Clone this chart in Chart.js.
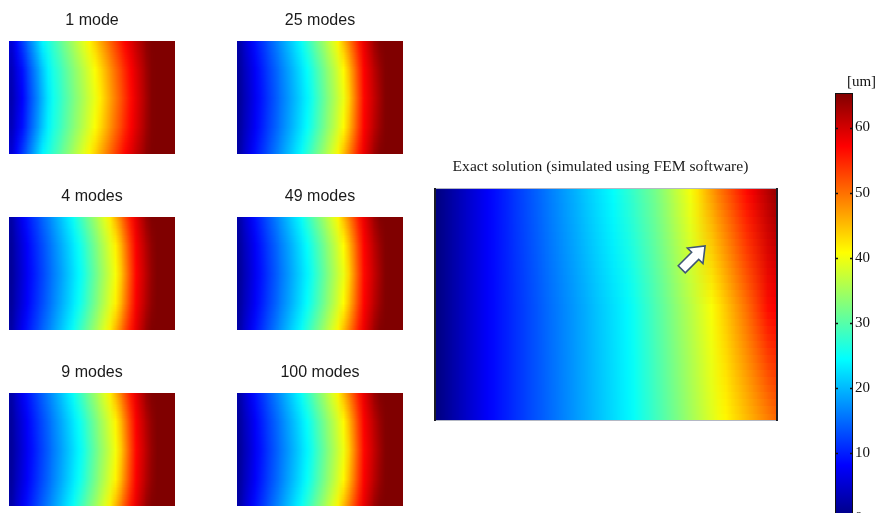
<!DOCTYPE html>
<html>
<head>
<meta charset="utf-8">
<script src="https://cdn.jsdelivr.net/npm/chart.js@4/dist/chart.umd.min.js"></script>
<style>
  body { margin: 0; background: #fff; }
  #page { position: relative; width: 880px; height: 513px; overflow: hidden; background: #fff; }
  canvas { position: absolute; }
</style>
</head>
<body>
<div id="page">
  <canvas id="m1" width="166" height="154" style="left:9px;top:0px"></canvas>
  <canvas id="m25" width="166" height="154" style="left:237px;top:0px"></canvas>
  <canvas id="m4" width="166" height="154" style="left:9px;top:176px"></canvas>
  <canvas id="m49" width="166" height="154" style="left:237px;top:176px"></canvas>
  <canvas id="m9" width="166" height="154" style="left:9px;top:352px"></canvas>
  <canvas id="m100" width="166" height="154" style="left:237px;top:352px"></canvas>
  <canvas id="exact" width="355" height="271" style="left:423px;top:150px"></canvas>
  <canvas id="cbar" width="53" height="460" style="left:835px;top:72px"></canvas>
</div>
<script>
// displacement field [um]
// small panels: top/bottom edge row, quarter-height row, middle row
const mode1Edge = [5.6, 8.7, 11.8, 14.8, 17.9, 21.0, 24.0, 26.0, 27.9, 29.8, 31.7, 33.6, 35.5, 37.4, 39.3, 41.4, 43.7, 46.0, 48.3, 50.7, 53.0, 55.3, 57.3, 59.1, 60.9, 62.6, 64.4, 65.2, 65.6, 66, 66, 66];
const mode1Quarter = [3.8, 6.4, 9.0, 12.0, 15.1, 18.0, 21.0, 23.8, 26.0, 27.7, 29.5, 31.4, 33.2, 34.9, 36.8, 38.6, 40.6, 42.8, 45.2, 47.7, 50.2, 52.6, 55.0, 57.3, 59.3, 61.3, 63.4, 65.0, 65.5, 66, 66, 66];
const mode1Mid = [3.2, 5.6, 8.1, 11.1, 14.1, 17.0, 20.0, 23.0, 25.3, 27.0, 28.8, 30.6, 32.4, 34.1, 35.9, 37.7, 39.5, 41.7, 44.2, 46.7, 49.2, 51.7, 54.2, 56.7, 58.8, 60.9, 63.0, 65.0, 65.5, 66, 66, 66];

const mode4Edge = [2.6, 5.0, 7.3, 9.3, 11.1, 12.8, 14.6, 16.3, 18.0, 19.8, 21.5, 23.3, 25.3, 27.6, 29.9, 32.2, 34.5, 36.8, 39.1, 41.9, 45.5, 49.1, 52.7, 56.0, 58.8, 61.4, 63.8, 65.2, 65.6, 66, 66, 66];
const mode4Quarter = [1.9, 4.0, 6.0, 8.0, 9.8, 11.5, 13.1, 14.8, 16.5, 18.2, 19.8, 21.5, 23.3, 25.1, 27.3, 29.6, 31.9, 34.2, 36.5, 38.9, 41.6, 45.3, 49.6, 53.8, 57.5, 59.9, 62.2, 64.3, 65.4, 65.7, 66, 66];
const mode4Mid = [1.7, 3.7, 5.6, 7.6, 9.3, 11.0, 12.6, 14.3, 16.0, 17.6, 19.2, 20.9, 22.6, 24.2, 26.4, 28.7, 31.0, 33.3, 35.6, 37.9, 40.3, 44.0, 48.5, 53.0, 57.0, 59.4, 61.7, 64.0, 65.3, 65.6, 66, 66];

const mode9Edge = [2.7, 5.1, 7.3, 9.2, 11.0, 12.8, 14.5, 16.2, 17.9, 19.7, 21.4, 23.2, 25.2, 27.5, 29.8, 32.1, 34.3, 36.6, 38.9, 41.7, 45.3, 48.9, 52.5, 55.9, 58.7, 61.3, 63.7, 65.1, 65.6, 66, 66, 66];
const mode9Quarter = [2.0, 4.1, 6.0, 7.9, 9.7, 11.4, 13.0, 14.7, 16.4, 18.1, 19.7, 21.4, 23.2, 25.0, 27.2, 29.5, 31.8, 34.1, 36.3, 38.7, 41.4, 45.1, 49.4, 53.7, 57.4, 59.8, 62.1, 64.2, 65.3, 65.7, 66, 66];
const mode9Mid = [1.8, 3.7, 5.6, 7.5, 9.2, 10.9, 12.5, 14.2, 15.9, 17.5, 19.1, 20.8, 22.5, 24.1, 26.3, 28.6, 30.9, 33.2, 35.4, 37.7, 40.1, 43.8, 48.3, 52.9, 56.9, 59.3, 61.6, 63.9, 65.2, 65.6, 66, 66];

const mode25Edge = [2.7, 5.0, 7.2, 9.1, 10.9, 12.6, 14.4, 16.1, 17.8, 19.6, 21.3, 23.1, 25.0, 27.3, 29.6, 31.9, 34.1, 36.4, 38.7, 41.4, 45.0, 48.6, 52.2, 55.8, 58.5, 61.0, 63.5, 65.0, 65.5, 66, 66, 66];
const mode25Quarter = [2.0, 4.0, 5.9, 7.8, 9.6, 11.3, 12.9, 14.5, 16.2, 17.9, 19.5, 21.2, 22.9, 24.7, 26.8, 29.1, 31.4, 33.7, 35.9, 38.3, 41.0, 44.8, 49.1, 53.5, 57.2, 59.4, 61.6, 63.6, 65.1, 65.6, 66, 66];
const mode25Mid = [1.7, 3.6, 5.5, 7.4, 9.1, 10.8, 12.4, 14.0, 15.7, 17.3, 18.9, 20.5, 22.2, 23.8, 25.9, 28.2, 30.5, 32.8, 35.0, 37.3, 39.6, 43.5, 48.1, 52.7, 56.8, 58.9, 61.0, 63.1, 65.0, 65.5, 66, 66];

const mode49Edge = [2.7, 5.0, 7.2, 9.1, 10.9, 12.7, 14.4, 16.1, 17.9, 19.6, 21.4, 23.1, 25.0, 27.3, 29.6, 31.8, 34.1, 36.4, 38.7, 41.3, 44.9, 48.5, 52.1, 55.7, 58.4, 60.9, 63.4, 65.0, 65.5, 66, 66, 66];
const mode49Quarter = [2.0, 4.0, 5.9, 7.8, 9.6, 11.3, 12.9, 14.5, 16.3, 17.9, 19.5, 21.2, 22.9, 24.7, 26.8, 29.0, 31.3, 33.6, 35.9, 38.3, 40.9, 44.7, 49.0, 53.4, 57.1, 59.3, 61.6, 63.6, 65.1, 65.6, 66, 66];
const mode49Mid = [1.7, 3.6, 5.5, 7.4, 9.1, 10.8, 12.4, 14.0, 15.7, 17.3, 18.9, 20.6, 22.2, 23.8, 25.9, 28.1, 30.4, 32.7, 35.0, 37.3, 39.5, 43.4, 48.0, 52.6, 56.7, 58.8, 61.0, 63.1, 65.0, 65.5, 66, 66];

const mode100Edge = [2.7, 5.0, 7.3, 9.2, 11.0, 12.7, 14.5, 16.2, 17.9, 19.7, 21.4, 23.2, 25.1, 27.4, 29.7, 32.0, 34.2, 36.5, 38.8, 41.5, 45.1, 48.7, 52.3, 55.8, 58.6, 61.1, 63.6, 65.0, 65.5, 66, 66, 66];
const mode100Quarter = [2.0, 4.0, 6.0, 7.9, 9.7, 11.4, 13.0, 14.6, 16.3, 18.0, 19.6, 21.3, 23.0, 24.8, 26.9, 29.2, 31.5, 33.8, 36.0, 38.4, 41.1, 44.9, 49.2, 53.6, 57.3, 59.5, 61.7, 63.7, 65.1, 65.6, 66, 66];
const mode100Mid = [1.7, 3.6, 5.5, 7.5, 9.2, 10.9, 12.5, 14.1, 15.8, 17.4, 19.0, 20.6, 22.3, 23.9, 26.0, 28.3, 30.6, 32.9, 35.1, 37.4, 39.7, 43.6, 48.2, 52.8, 56.8, 58.9, 61.1, 63.2, 65.0, 65.5, 66, 66];

// exact solution: top row, middle row, bottom row
const exactTop = [0.2, 1.3, 2.4, 3.5, 4.6, 5.6, 6.7, 7.8, 8.8, 9.7, 10.6, 11.6, 12.5, 13.4, 14.3, 15.3, 16.2, 17.1, 18.1, 19.0, 19.9, 20.9, 21.8, 22.7, 23.6, 24.6, 25.8, 27.0, 28.2, 29.5, 30.7, 31.9, 33.5, 35.2, 36.9, 38.5, 40.2, 42.4, 44.7, 46.9, 49.1, 50.9, 52.8, 54.7, 56.5, 58.2, 60.0, 61.7, 63.5];
const exactMid = [0.2, 1.3, 2.4, 3.5, 4.6, 5.6, 6.7, 7.8, 8.7, 9.5, 10.3, 11.1, 11.9, 12.7, 13.5, 14.4, 15.2, 16.0, 16.8, 17.6, 18.4, 19.2, 20.1, 20.9, 21.7, 22.5, 23.3, 24.1, 25.4, 26.7, 28.0, 29.4, 30.7, 32.1, 33.5, 34.9, 36.2, 37.6, 39.0, 40.4, 42.4, 44.3, 46.2, 48.1, 50.0, 52.1, 54.2, 56.3, 57.2];
const exactBottom = [0.2, 1.3, 2.4, 3.5, 4.6, 5.6, 6.7, 7.8, 8.7, 9.5, 10.3, 11.1, 11.9, 12.7, 13.5, 14.2, 15.0, 15.8, 16.6, 17.4, 18.2, 19.0, 19.8, 20.6, 21.4, 22.2, 23.0, 23.8, 24.8, 26.0, 27.2, 28.4, 29.6, 30.9, 32.1, 33.4, 34.7, 36.0, 37.3, 38.6, 39.9, 41.1, 42.4, 43.6, 44.9, 46.1, 47.4, 48.6, 49.9];

// arrow marker in the exact solution (column index, height 0..1)
const arrowAt = { x: 36.4, y: 0.70 };

// colorbar
const colorMin = 0;
const colorMax = 65.3;
const colorTicks = [0, 10, 20, 30, 40, 50, 60];
const colorUnit = "[um]";

Chart.defaults.animation = false;
Chart.defaults.events = [];
Chart.defaults.plugins.legend.display = false;
Chart.defaults.plugins.tooltip.enabled = false;

function jet(v) {
  const t = Math.min(1, Math.max(0, (v - colorMin) / (colorMax - colorMin)));
  const c = k => Math.round(255 * Math.min(1, Math.max(0, 1.5 - Math.abs(4 * t - k))));
  return `rgb(${c(3)},${c(2)},${c(1)})`;
}

// shaded fill for the columns: colours come from the rows of values,
// smoothed between column centres like an interpolated surface plot
function fieldPattern(chart, rows) {
  const a = chart.chartArea;
  const key = a.left + "," + a.top + "," + a.width + "," + a.height;
  if (chart.$field && chart.$field.key === key) return chart.$field.pattern;
  const n = rows[0].length, m = rows.length;
  const src = document.createElement("canvas");
  src.width = n; src.height = m;
  const sc = src.getContext("2d");
  rows.forEach((r, j) => r.forEach((v, i) => {
    sc.fillStyle = jet(v);
    sc.fillRect(i, j, 1, 1);
  }));
  const dst = document.createElement("canvas");
  dst.width = Math.ceil(a.width); dst.height = Math.ceil(a.height);
  const dc = dst.getContext("2d");
  dc.imageSmoothingEnabled = true;
  dc.drawImage(src, 0, 0.5, n, m - 1, 0, 0, a.width, a.height);
  const pattern = chart.ctx.createPattern(dst, "no-repeat");
  pattern.setTransform(new DOMMatrix([1, 0, 0, 1, a.left, a.top]));
  chart.$field = { key, pattern };
  return pattern;
}

function heatPanel(id, title, rows, extra) {
  extra = extra || {};
  const yWidth = extra.yWidth || 0;
  return new Chart(document.getElementById(id), {
    type: "bar",
    data: {
      labels: rows[0].map((_, i) => i),
      datasets: [{
        data: rows[0].map(() => [0, 1]),
        barPercentage: 1.6,
        categoryPercentage: 1,
        borderWidth: 0,
        backgroundColor: c => {
          if (!c.chart.chartArea) return "#000";
          return fieldPattern(c.chart, rows);
        }
      }]
    },
    options: {
      responsive: false,
      devicePixelRatio: 1,
      layout: { padding: 0 },
      scales: {
        x: { display: false },
        y: {
          display: yWidth > 0,
          min: 0,
          max: 1,
          afterFit: s => { s.width = yWidth; },
          ticks: { display: false },
          grid: { display: false, drawTicks: false },
          border: { display: false }
        }
      },
      plugins: {
        title: extra.title || {
          display: true,
          text: title,
          color: "#1a1a1a",
          font: { family: "'Liberation Sans', Arial", size: 16, weight: "normal" },
          padding: { top: 11.4, bottom: 10.4 }
        }
      }
    },
    plugins: extra.plugins || []
  });
}

heatPanel("m1", "1 mode", [mode1Edge, mode1Quarter, mode1Mid, mode1Quarter, mode1Edge]);
heatPanel("m25", "25 modes", [mode25Edge, mode25Quarter, mode25Mid, mode25Quarter, mode25Edge]);
heatPanel("m4", "4 modes", [mode4Edge, mode4Quarter, mode4Mid, mode4Quarter, mode4Edge]);
heatPanel("m49", "49 modes", [mode49Edge, mode49Quarter, mode49Mid, mode49Quarter, mode49Edge]);
heatPanel("m9", "9 modes", [mode9Edge, mode9Quarter, mode9Mid, mode9Quarter, mode9Edge]);
heatPanel("m100", "100 modes", [mode100Edge, mode100Quarter, mode100Mid, mode100Quarter, mode100Edge]);

// frame + arrow for the exact solution
const exactDecor = {
  id: "exactDecor",
  afterDatasetsDraw(chart) {
    const { ctx, chartArea: a, scales } = chart;
    ctx.save();
    ctx.strokeStyle = "#b4b8c4";
    ctx.lineWidth = 1;
    ctx.beginPath();
    ctx.moveTo(a.left, a.top + 0.5); ctx.lineTo(a.right, a.top + 0.5);
    ctx.moveTo(a.left, a.bottom - 0.5); ctx.lineTo(a.right, a.bottom - 0.5);
    ctx.stroke();
    ctx.strokeStyle = "#1c1c24";
    ctx.lineWidth = 2;
    ctx.beginPath();
    ctx.moveTo(a.left + 1, a.top); ctx.lineTo(a.left + 1, a.bottom);
    ctx.moveTo(a.right - 1, a.top); ctx.lineTo(a.right - 1, a.bottom);
    ctx.stroke();

    const px = scales.x.getPixelForValue(arrowAt.x);
    const py = scales.y.getPixelForValue(arrowAt.y);
    ctx.translate(px, py);
    ctx.rotate(-Math.PI / 4);
    ctx.beginPath();
    ctx.moveTo(-16, -5);
    ctx.lineTo(3, -5);
    ctx.lineTo(3, -11);
    ctx.lineTo(17, 0);
    ctx.lineTo(3, 11);
    ctx.lineTo(3, 5);
    ctx.lineTo(-16, 5);
    ctx.closePath();
    ctx.fillStyle = "#ffffff";
    ctx.fill();
    ctx.strokeStyle = "#3e5577";
    ctx.lineWidth = 1.6;
    ctx.lineJoin = "miter";
    ctx.stroke();
    ctx.restore();
  }
};

heatPanel("exact", "", [exactTop, exactMid, exactBottom], {
  yWidth: 11,
  title: {
    display: true,
    text: "Exact solution (simulated using FEM software)",
    color: "#1a1a1a",
    font: { family: "'Liberation Serif', 'Times New Roman', serif", size: 15.6, weight: "normal" },
    padding: { top: 7.6, bottom: 11.7 }
  },
  plugins: [exactDecor]
});

// colorbar
const cbarDecor = {
  id: "cbarDecor",
  afterDatasetsDraw(chart) {
    const { ctx, chartArea: a, scales } = chart;
    ctx.save();
    ctx.strokeStyle = "#111";
    ctx.lineWidth = 1;
    ctx.strokeRect(a.left + 0.5, a.top + 0.5, a.right - a.left - 1, a.bottom - a.top + 4);
    ctx.lineWidth = 1.5;
    ctx.beginPath();
    colorTicks.forEach(v => {
      const y = Math.round(scales.y.getPixelForValue(v)) + 0.5;
      ctx.moveTo(a.left, y); ctx.lineTo(a.left + 3, y);
      ctx.moveTo(a.right - 3, y); ctx.lineTo(a.right, y);
    });
    ctx.stroke();
    ctx.restore();
  }
};

new Chart(document.getElementById("cbar"), {
  type: "bar",
  data: {
    labels: [""],
    datasets: [{
      data: [[colorMin, colorMax]],
      barPercentage: 1,
      categoryPercentage: 1,
      borderWidth: 0,
      backgroundColor: c => {
        const area = c.chart.chartArea;
        if (!area) return "#000";
        const g = c.chart.ctx.createLinearGradient(0, area.bottom, 0, area.top);
        [0, 1 / 8, 3 / 8, 5 / 8, 7 / 8, 1].forEach(s => {
          g.addColorStop(s, jet(colorMin + s * (colorMax - colorMin)));
        });
        return g;
      }
    }]
  },
  options: {
    responsive: false,
    devicePixelRatio: 1,
    layout: { padding: { bottom: 13.5 } },
    scales: {
      x: { display: false },
      y: {
        position: "right",
        min: colorMin,
        max: colorMax,
        afterFit: s => { s.width = 35; },
        grid: { display: false, drawTicks: false },
        border: { display: false },
        ticks: {
          stepSize: 10,
          includeBounds: false,
          padding: 2,
          color: "#111",
          font: { family: "'Liberation Serif', 'Times New Roman', serif", size: 15 }
        }
      }
    },
    plugins: {
      title: {
        display: true,
        text: colorUnit,
        color: "#111",
        font: { family: "'Liberation Serif', 'Times New Roman', serif", size: 15, weight: "normal" },
        padding: { top: 1, bottom: 2 }
      }
    }
  },
  plugins: [cbarDecor]
});
</script>
</body>
</html>
